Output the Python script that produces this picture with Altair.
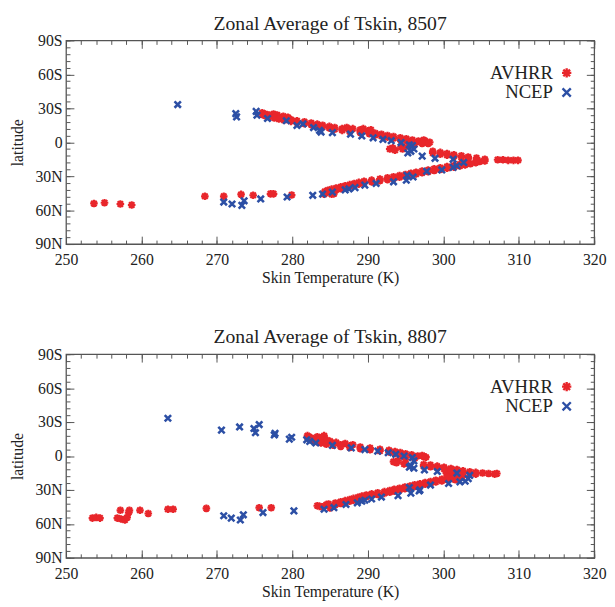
import altair as alt
import pandas as pd

# ---------------- data ----------------
series_names = ["AVHRR", "NCEP"]
series_colors = ["#e8262b", "#2c4fa5"]

# Panel 1: 8507   (latitude: negative = S, positive = N)
avhrr_8507_t = [
    276.0, 276.4, 276.9, 277.6, 278.2, 278.9, 279.8, 280.6, 281.6, 282.5, 283.3, 284.0, 284.9,
    285.6, 286.6, 287.6, 289.0, 290.2, 291.0, 291.8, 292.6, 293.4, 294.3, 295.1, 295.9, 296.7, 297.5,
    288.0, 289.0, 290.0, 289.4, 290.4, 287.2, 278.0, 278.8, 279.4, 277.5,
    297.6, 297.4, 298.2, 298.0,
    297.2, 296.2, 295.4, 294.4, 293.3, 292.9, 293.6, 294.8, 294.6,
    298.6, 299.6, 300.5, 301.4, 302.4, 303.3, 304.4, 305.5,
    307.2, 307.9, 308.6, 309.3, 309.9,
    304.8, 304.3, 303.6, 302.9, 302.2, 301.4, 300.5, 299.6, 298.8, 298.0, 297.2, 296.4, 295.7,
    295.0, 294.2, 293.4, 292.6, 291.6, 290.5, 289.5, 288.8, 288.2, 287.6, 287.0, 286.4, 285.8,
    285.2, 284.7, 284.3, 285.2, 285.5, 284.2,
    253.7, 255.1, 257.2, 258.7, 268.4, 270.9, 273.2, 274.8, 277.1, 277.5, 279.9,
]
avhrr_8507_lat = [
    -26, -25, -24, -23, -22, -21, -20, -19, -18, -17, -16, -15, -14,
    -13, -12, -11, -10, -9, -8, -7, -6, -5, -4, -3, -2, -1, 0,
    -12, -11, -10, -12, -11, -13, -24, -23, -22, -25,
    -1, -2, 0, 1,
    1, 2, 3, 4, 5, 6, 7, 5, 6,
    8, 9, 10, 11, 12, 13, 14, 15,
    15.5, 15.5, 16, 16, 16,
    17, 18, 19, 20, 21, 22, 23, 24, 25, 26, 27, 28, 29,
    30, 31, 32, 33, 34, 35, 36, 37, 38, 39, 40, 41, 42,
    43, 44, 45, 46, 45.5, 46,
    54.1, 53.5, 54.6, 55.5, 47.8, 47.8, 46.1, 46.9, 45.6, 45.6, 46.7,
]
# second row of red points that gives the AVHRR band its thickness
avhrr_8507_t2 = [
    276.0, 276.4, 276.9, 277.6, 278.2, 278.9, 279.8, 280.6, 281.6, 282.5, 283.3, 284.0, 284.9,
    285.6, 286.6, 287.6, 289.0, 290.2, 291.0, 291.8, 292.6, 293.4, 294.3, 295.1, 295.9,
    298.6, 299.6, 300.5, 301.4, 302.4, 303.3, 304.4, 305.5,
    302.9, 302.2, 301.4, 300.5, 299.6, 298.8, 298.0, 297.2, 296.4, 295.7, 295.0, 294.2, 293.4,
    292.6, 291.6, 290.5, 289.5, 288.8, 288.2, 287.6, 287.0, 286.4, 285.8, 285.2, 284.7, 284.3,
]
avhrr_8507_lat2 = [
    -24.5, -23.5, -22.5, -21.5, -20.5, -19.5, -18.5, -17.5, -16.5, -15.5, -14.5, -13.5, -12.5,
    -11.5, -10.5, -9.5, -8.5, -7.5, -6.5, -5.5, -4.5, -3.5, -2.5, -1.5, -0.5,
    9.5, 10.5, 11.5, 12.5, 13.5, 14.5, 15.5, 16.5,
    18.5, 19.5, 20.5, 21.5, 22.5, 23.5, 24.5, 25.5, 26.5, 27.5, 28.5, 29.5, 30.5,
    31.5, 32.5, 33.5, 34.5, 35.5, 36.5, 37.5, 38.5, 39.5, 40.5, 41.5, 42.5, 43.5,
]
ncep_8507_t = [
    264.8, 272.5, 272.6, 275.2, 275.3, 276.7, 279.2, 280.6, 281.4, 282.8, 283.6, 283.8, 285.3,
    287.7, 289.2, 290.7, 292.0, 293.1, 294.4, 295.5, 295.9, 296.1, 295.7, 295.3, 297.2, 298.9,
    301.3, 302.7, 301.8, 301.3, 299.8, 297.8, 296.0, 295.2, 295.1, 293.4, 291.1, 289.6, 288.3,
    287.5, 287.0, 285.3, 284.0, 282.7, 279.3, 275.8, 273.6, 273.3, 272.0, 270.9,
]
ncep_8507_lat = [
    -33.3, -25.3, -22.4, -27.3, -23.9, -21.0, -19.0, -14.8, -16.2, -13.0, -10.5, -9.0, -8.5,
    -7.1, -5.6, -3.9, -2.5, -1.4, 0.3, 2.3, 3.0, 6.0, 8.0, 9.4, 12.3, 14.2,
    15.1, 17.9, 20.8, 22.2, 24.5, 25.7, 30.7, 29.3, 33.6, 35.0, 36.4, 37.9, 40.1,
    41.3, 42.1, 44.1, 45.8, 46.9, 48.4, 50.1, 51.8, 55.8, 54.6, 52.9,
]

# Panel 2: 8807
avhrr_8807_t = [
    282.0, 284.2, 282.2, 282.5, 282.9, 283.3, 283.8, 284.5, 285.4, 286.4, 287.6, 289.0, 290.3,
    291.6, 292.8, 293.6, 294.3, 295.0, 295.8, 296.6,
    283.3, 284.0, 285.0, 285.8, 287.0, 288.0, 283.8, 284.6,
    297.4, 297.7, 297.2,
    296.2, 295.0, 294.0, 293.4, 293.8, 294.8,
    297.4, 298.3, 299.2, 300.1, 301.0, 301.8, 302.6, 303.5, 304.3, 305.2, 306.0, 306.8, 307.1,
    300.4, 300.6, 300.9, 301.0, 300.6, 301.3, 301.6, 301.5,
    302.5, 301.9, 300.5, 299.8, 299.0, 298.3, 297.6, 296.9, 296.2, 295.6, 294.9, 294.2, 293.5,
    292.9, 292.2, 291.3, 290.5, 289.8, 289.2, 288.7, 288.1, 287.6, 287.0, 286.4, 285.7, 284.8,
    283.6, 284.0, 283.3, 285.0, 284.5,
    253.5, 254.0, 254.5, 256.8, 257.3, 257.8, 258.1, 258.3, 257.2, 258.4, 259.8, 260.9, 263.5,
    264.2, 268.6, 275.6, 277.2,
]
avhrr_8807_lat = [
    -18, -18, -17, -16, -15, -14, -13, -12, -11, -10, -9, -8, -7,
    -6, -5, -4, -3, -2, -1, 0,
    -17, -15, -13, -12, -11, -10, -16, -14,
    0.5, 1, -0.5,
    2, 3, 4, 5, 6, 7,
    7.5, 8, 9, 10, 11, 12, 13, 14, 14.5, 15, 15.5, 16, 15.5,
    15, 16, 17, 18, 19, 20, 21, 16.5,
    18.5, 19.5, 21, 22, 23, 24, 25, 26, 27, 28, 29, 30, 31,
    32, 33, 34, 35, 36, 37, 38, 39, 40, 41, 42, 43, 44,
    44.5, 45, 44, 46, 43,
    54.9, 54.3, 54.9, 54.9, 55.7, 56.6, 54.3, 50.0, 48.0, 48.0, 48.0, 50.8, 47.1,
    47.1, 46.3, 45.7, 45.7,
]
avhrr_8807_t2 = [
    282.0, 282.2, 282.5, 282.9, 283.3, 283.8, 284.5, 285.4, 286.4, 287.6, 289.0, 290.3, 291.6,
    292.8, 293.6, 294.3, 295.0,
    297.4, 298.3, 299.2, 300.1, 301.0, 301.8, 302.6, 303.5, 304.3,
    300.5, 299.8, 299.0, 298.3, 297.6, 296.9, 296.2, 295.6, 294.9, 294.2, 293.5, 292.9, 292.2,
    291.3, 290.5, 289.8, 289.2, 288.7, 288.1, 287.6, 287.0, 286.4, 285.7, 284.8,
]
avhrr_8807_lat2 = [
    -16.5, -15.5, -14.5, -13.5, -12.5, -11.5, -10.5, -9.5, -8.5, -7.5, -6.5, -5.5, -4.5,
    -3.5, -2.5, -1.5, -0.5,
    9, 9.5, 10.5, 11.5, 12.5, 13.5, 14.5, 15.5, 16,
    19.5, 20.5, 21.5, 22.5, 23.5, 24.5, 25.5, 26.5, 27.5, 28.5, 29.5, 30.5, 31.5,
    32.5, 33.5, 34.5, 35.5, 36.5, 37.5, 38.5, 39.5, 40.5, 41.5, 42.5,
]
ncep_8807_t = [
    263.5, 270.6, 273.0, 274.9, 275.1, 275.6, 277.6, 277.7, 279.6, 279.9, 281.9, 282.3, 283.1,
    285.3, 287.8, 289.6, 291.3, 292.7, 293.7, 294.8, 295.9, 296.1, 295.7, 295.5, 296.1, 297.5,
    299.2, 301.8, 303.5, 303.3, 302.9, 302.2, 300.7, 298.3, 296.8, 296.9, 295.7, 295.5, 294.0,
    291.8, 290.5, 289.6, 289.2, 288.6, 287.1, 285.5, 284.2, 280.2, 276.1, 273.5, 273.1, 271.9, 270.9,
]
ncep_8807_lat = [
    -33.4, -22.9, -25.7, -24.3, -20.6, -27.8, -18.6, -20.0, -14.9, -16.6, -14.3, -12.9, -11.5,
    -9.4, -7.2, -5.7, -4.3, -2.9, -1.5, 0.0, 1.4, 4.3, 8.6, 9.9, 10.8, 12.3,
    13.7, 15.1, 17.1, 20.0, 22.3, 22.8, 24.3, 25.7, 30.9, 30.0, 32.8, 27.9, 35.0,
    36.3, 38.0, 39.1, 40.0, 41.4, 42.9, 45.7, 47.1, 48.5, 50.0, 52.0, 56.6, 54.9, 52.8,
]

x_major = [250, 260, 270, 280, 290, 300, 310, 320]
x_minor = [250, 252, 254, 256, 258, 260, 262, 264, 266, 268, 270, 272, 274, 276, 278, 280,
           282, 284, 286, 288, 290, 292, 294, 296, 298, 300, 302, 304, 306, 308, 310, 312,
           314, 316, 318, 320]
y_major = [-90, -60, -30, 0, 30, 60, 90]
y_minor = [-90, -84, -78, -72, -66, -60, -54, -48, -42, -36, -30, -24, -18, -12, -6, 0,
           6, 12, 18, 24, 30, 36, 42, 48, 54, 60, 66, 72, 78, 84, 90]

# ---------------- styling ----------------
W, H = 537, 207
FONT = "Liberation Serif"
TICK_C = "#555555"
ASTERISK = "M-1,0L1,0M0,-1L0,1M-0.72,-0.72L0.72,0.72M-0.72,0.72L0.72,-0.72"
XSHAPE = "M-1,-1L1,1M-1,1L1,-1"
LAT_EXPR = "datum.value < 0 ? (-datum.value) + 'S' : (datum.value > 0 ? datum.value + 'N' : '0')"

xs = alt.Scale(domain=[250, 320], nice=False, zero=False)
ys = alt.Scale(domain=[-90, 90], nice=False, zero=False, reverse=True)


def xaxis(orient, values, size, labels=False, title=None):
    kw = dict(orient=orient, values=values, tickSize=size, offset=-size, domain=False,
              grid=False, labels=labels, tickColor=TICK_C, tickWidth=1, title=title,
              minExtent=0, labelFlush=False)
    if labels:
        kw.update(labelPadding=8, titlePadding=2)
    return alt.Axis(**kw)


def yaxis(orient, values, size, labels=False, title=None):
    kw = dict(orient=orient, values=values, tickSize=size, offset=-size, domain=False,
              grid=False, labels=labels, tickColor=TICK_C, tickWidth=1, title=title,
              minExtent=0)
    if labels:
        kw.update(labelPadding=4, titlePadding=10, labelExpr=LAT_EXPR)
    return alt.Axis(**kw)


def panel(title, a_t, a_lat, n_t, n_lat):
    adf = pd.DataFrame({"T": a_t, "lat": a_lat})
    ndf = pd.DataFrame({"T": n_t, "lat": n_lat})

    red = alt.Chart(adf).mark_point(shape=ASTERISK, filled=False, size=60, strokeWidth=2.2,
                                    color=series_colors[0], opacity=1).encode(
        x=alt.X("T:Q", scale=xs, axis=xaxis("bottom", x_major, 8, True, "Skin Temperature (K)")),
        y=alt.Y("lat:Q", scale=ys, axis=yaxis("left", y_major, 8, True, "latitude")),
    )
    blue = alt.Chart(ndf).mark_point(shape=XSHAPE, filled=False, size=42, strokeWidth=2.6,
                                     color=series_colors[1], opacity=1).encode(
        x=alt.X("T:Q", scale=xs, axis=xaxis("bottom", x_minor, 4)),
        y=alt.Y("lat:Q", scale=ys, axis=yaxis("left", y_minor, 4)),
    )
    ax3 = alt.Chart(adf).mark_point(opacity=0).encode(
        x=alt.X("T:Q", scale=xs, axis=xaxis("top", x_major, 8)),
        y=alt.Y("lat:Q", scale=ys, axis=yaxis("right", y_major, 8)),
    )
    ax4 = alt.Chart(adf).mark_point(opacity=0).encode(
        x=alt.X("T:Q", scale=xs, axis=xaxis("top", x_minor, 4)),
        y=alt.Y("lat:Q", scale=ys, axis=yaxis("right", y_minor, 4)),
    )
    legend_layers = []
    for i, (name, col, shp, sz) in enumerate(zip(series_names, series_colors,
                                                 [ASTERISK, XSHAPE], [90, 70])):
        ldf = pd.DataFrame({"label": [name]})
        ypix = 33 + i * 20
        legend_layers.append(
            alt.Chart(ldf).mark_text(align="right", baseline="middle", font=FONT,
                                     fontSize=19, color="#222222").encode(
                x=alt.value(495), y=alt.value(ypix), text="label:N"))
        legend_layers.append(
            alt.Chart(ldf).mark_point(shape=shp, filled=False, size=sz, strokeWidth=2.4,
                                      color=col, opacity=1).encode(
                x=alt.value(509), y=alt.value(ypix)))

    return alt.layer(red, blue, ax3, ax4, *legend_layers).resolve_axis(
        x="independent", y="independent").properties(
        width=W, height=H,
        title=alt.TitleParams(title, font=FONT, fontSize=20, fontWeight="normal",
                              color="#222222", frame="group", anchor="middle", offset=-1))


p1 = panel("Zonal Average of Tskin, 8507",
           avhrr_8507_t + avhrr_8507_t2, avhrr_8507_lat + avhrr_8507_lat2,
           ncep_8507_t, ncep_8507_lat)
p2 = panel("Zonal Average of Tskin, 8807",
           avhrr_8807_t + avhrr_8807_t2, avhrr_8807_lat + avhrr_8807_lat2,
           ncep_8807_t, ncep_8807_lat)

chart = alt.vconcat(p1, p2, spacing=41).properties(
    padding={"left": 0, "top": 0, "right": 0, "bottom": 0}
).configure_axis(
    labelFont=FONT, titleFont=FONT, labelFontSize=16, titleFontSize=16,
    titleFontWeight="normal", labelColor="#222222", titleColor="#222222",
).configure_view(stroke="#555555", strokeWidth=1.3)

chart.save("out.html", embed_options={"renderer": "svg", "actions": False})
